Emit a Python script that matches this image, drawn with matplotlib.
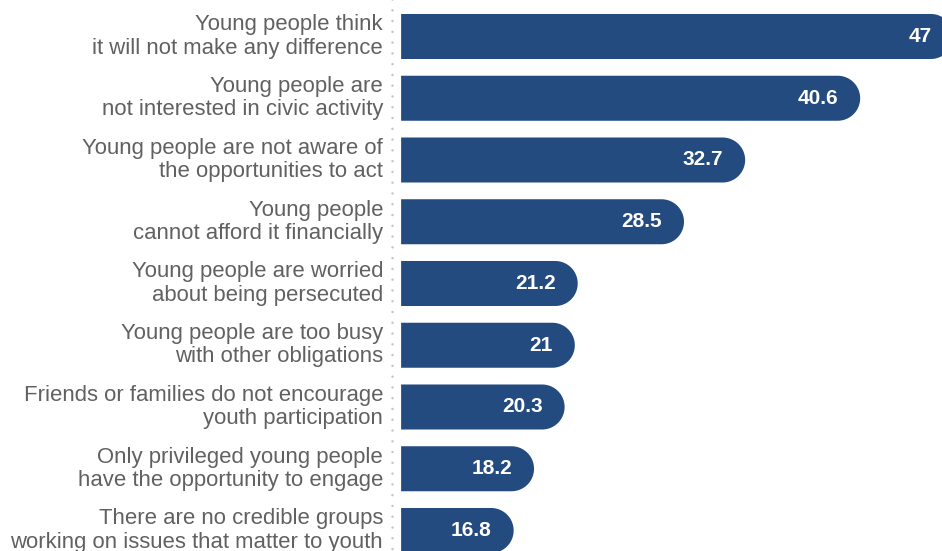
import numpy as np
import matplotlib.pyplot as plt
from matplotlib.patches import Polygon

LABELS = [
    "Young people think\nit will not make any difference",
    "Young people are\nnot interested in civic activity",
    "Young people are not aware of\nthe opportunities to act",
    "Young people\ncannot afford it financially",
    "Young people are worried\nabout being persecuted",
    "Young people are too busy\nwith other obligations",
    "Friends or families do not encourage\nyouth participation",
    "Only privileged young people\nhave the opportunity to engage",
    "There are no credible groups\nworking on issues that matter to youth",
]
VALUES = [47, 40.6, 32.7, 28.5, 21.2, 21, 20.3, 18.2, 16.8]
VALUE_TEXT = ["47", "40.6", "32.7", "28.5", "21.2", "21", "20.3", "18.2", "16.8"]

BAR_COLOR = "#244b80"
TEXT_COLOR = "#616161"
DOT_COLOR = "#c4c4c4"
BAR_START = 9.07
BAR_HEIGHT = 0.729
LABEL_X = 7.83
RULE_X = 8.44

plt.rcParams["font.family"] = ["Liberation Sans", "DejaVu Sans"]

fig = plt.figure(figsize=(9.42, 5.51), dpi=100)
ax = fig.add_axes([0, 0, 1, 1])
ax.set_xlim(-18.48, 46.22)
ax.set_ylim(8.332, -0.591)
ax.axis("off")

# pixels per data unit, to keep the round caps circular on screen
fig.canvas.draw()
p0 = ax.transData.transform((0, 0))
p1 = ax.transData.transform((1, 1))
sx, sy = abs(p1[0] - p0[0]), abs(p1[1] - p0[1])


def pill(x0, x1, yc, h):
    ry = h / 2
    rx = ry * sy / sx
    t = np.linspace(np.pi / 2, -np.pi / 2, 40)
    arc = np.column_stack([x1 - rx + rx * np.cos(t), yc - ry * np.sin(t)])
    pts = [(x0, yc - ry)] + [tuple(p) for p in arc] + [(x0, yc + ry)]
    return Polygon(pts, closed=True, facecolor=BAR_COLOR, edgecolor="none")


ax.vlines(RULE_X, -0.6, 8.4, colors=DOT_COLOR, linewidth=1.8,
          linestyles=(0, (0.01, 4.3)), capstyle="round")
for i, (lab, v, vt) in enumerate(zip(LABELS, VALUES, VALUE_TEXT)):
    ax.add_patch(pill(BAR_START, v, i, BAR_HEIGHT))
    ax.text(LABEL_X, i, lab, ha="right", va="center", fontsize=15.9,
            color=TEXT_COLOR, linespacing=1.15)
    ax.annotate(vt, (v, i), xytext=(-22, 0), textcoords="offset pixels",
                ha="right", va="center", fontsize=15, fontweight="bold",
                color="white", annotation_clip=False)

fig.savefig("out.png", dpi=100)
